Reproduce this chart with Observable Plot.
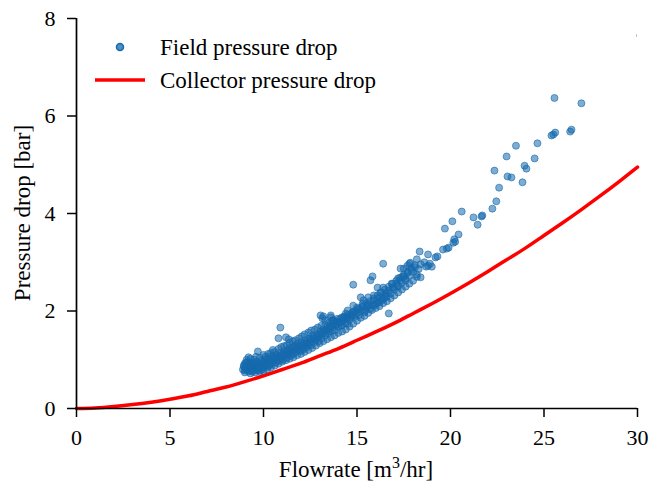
<!DOCTYPE html>
<html>
<head>
<meta charset="utf-8">
<script src="https://cdn.jsdelivr.net/npm/d3@7"></script>
<script src="https://cdn.jsdelivr.net/npm/@observablehq/plot@0.6"></script>
<style>
  html, body { margin: 0; padding: 0; background: #fff; }
  #chart { width: 663px; height: 485px; }
</style>
</head>
<body>
<div id="chart"></div>
<script>
// ---- data ----
const xTicks = [0, 5, 10, 15, 20, 25, 30];
const yTicks = [0, 2, 4, 6, 8];
const xLabel = "Flowrate [m";
const xLabelSup = "3";
const xLabelEnd = "/hr]";
const yLabel = "Pressure drop [bar]";
const legendField = "Field pressure drop";
const legendCollector = "Collector pressure drop";

// Collector pressure drop curve (read at integer flowrates)
const collectorFlow = [0,1,2,3,4,5,6,7,8,9,10,11,12,13,14,15,16,17,18,19,20,21,22,23,24,25,26,27,28,29,30];
const collectorDrop = [0,0.01,0.04,0.08,0.13,0.19,0.26,0.35,0.44,0.55,0.67,0.80,0.93,1.08,1.23,1.40,1.57,1.75,1.95,2.15,2.36,2.58,2.81,3.05,3.29,3.55,3.81,4.08,4.36,4.65,4.95];

// Field pressure drop measurements [flowrate, pressure drop]
const fieldSparse = [
  [30.15,7.65],[25.56,6.37],[27.0,6.26],[25.6,5.66],[25.5,5.62],[25.4,5.6],[26.47,5.72],[26.4,5.68],
  [24.65,5.44],[23.5,5.39],[24.5,5.13],[23.0,5.17],[23.96,4.98],[24.06,4.92],[22.35,4.88],[23.05,4.76],
  [23.26,4.74],[23.85,4.64],[22.6,4.53],[22.45,4.25],[22.24,4.10],[21.66,3.94],[21.7,3.96],[21.23,3.92],
  [20.6,4.04],[20.1,3.84],[21.45,3.77],[19.7,3.69],[20.43,3.57],[20.2,3.47],[20.25,3.42],[20.15,3.4],
  [19.9,3.3],[19.8,3.28],[19.6,3.26],[19.3,3.12],[19.2,3.1],[18.8,3.16],[18.35,3.22],[18.2,3.06],
  [18.9,2.97],[18.8,2.93],[18.7,2.91],[19.0,2.91],[17.85,2.99],[17.7,2.93],[17.5,2.87]
];
const fieldMid = [
  [16.4,2.97],[17.8,2.97],[17.33,2.87],[15.83,2.71],[15.72,2.63],[14.8,2.54],[17.43,2.71],[17.6,2.63],
  [17.2,2.67],[18.2,2.75],[18.4,2.69],[16.85,2.56],[16.95,2.48],[17.2,2.52],[16.4,2.48],[16.1,2.48],
  [16.25,2.38],[16.6,2.36],[16.5,2.28],[16.3,2.22],[15.9,2.32],[16.1,2.17],[15.9,2.11],[15.6,2.28],
  [15.35,2.22],[15.2,2.28],[15.3,2.15],[15.0,2.07],[14.8,2.11],[15.6,2.11],[15.45,2.01],[14.5,2.01],
  [14.4,1.95],[14.3,1.87],[14.75,1.97],[14.65,1.87],[14.8,1.91],[16.7,1.95],[13.6,1.91],[13.3,1.81],
  [13.75,1.81],[13.6,1.7],[14.1,1.76],[14.5,1.74],[13.05,1.91],[13.15,1.85],
  [13.2,1.89],[13.6,1.87],[13.7,1.81],[14.2,1.87],[14.2,1.70],[10.9,1.66],[10.8,1.44],[11.2,1.46],
  [11.35,1.42],[9.7,1.17],[9.2,1.05],[9.05,0.94],[8.95,0.88]
];
const fieldBand = [
  [8.9,0.80],[8.95,0.86],[9.0,0.92],[9.0,0.78],[9.05,0.84],[9.1,0.88],[9.1,0.80],[9.15,0.95],
  [9.2,0.83],[9.2,0.76],[9.25,0.90],[9.3,0.86],[9.3,0.79],[9.35,0.93],[9.4,0.82],[9.4,0.76],
  [9.45,0.88],[9.5,0.84],[9.5,0.78],[9.55,0.92],[9.6,0.86],[9.6,0.80],[9.65,0.96],[9.7,0.88],
  [9.7,0.82],[9.75,0.78],[9.8,0.92],[9.85,0.86],[9.9,0.80],[9.9,0.98],[9.95,0.90],[10.0,0.84],
  [10.0,0.95],[10.05,1.0],[10.1,0.88],[10.15,0.94],[10.2,0.86],[10.2,1.02],[10.3,0.92],[10.3,0.98],
  [10.35,1.06],[10.4,0.90],[10.45,1.0],[10.5,0.95],[10.55,1.08],[10.6,1.02],[10.65,0.94],[10.7,1.10],
  [10.75,1.0],[10.8,1.06],[10.85,0.98],[10.9,1.14],[10.95,1.04],[11.0,1.10],[11.05,1.0],[11.1,1.18],
  [11.15,1.08],[11.2,1.14],[11.25,1.04],[11.3,1.2],[11.35,1.12],[11.4,1.24],[11.45,1.08],[11.5,1.16],
  [11.55,1.26],[11.6,1.12],[11.65,1.2],[11.7,1.3],[11.75,1.16],[11.8,1.24],[11.85,1.34],[11.9,1.2],
  [11.95,1.28],[12.0,1.18],[12.05,1.36],[12.1,1.26],[12.15,1.22],[12.2,1.32],[12.25,1.4],[12.3,1.26],
  [12.35,1.34],[12.4,1.3],[12.45,1.44],[12.5,1.36],[12.55,1.3],[12.6,1.42],[12.65,1.5],[12.7,1.36],
  [12.75,1.44],[12.8,1.4],[12.85,1.52],[12.9,1.46],[12.95,1.38],[13.0,1.5],[13.05,1.58],[13.1,1.44],
  [13.15,1.54],[13.2,1.62],[13.3,1.5],[13.35,1.58],[13.4,1.66],[13.45,1.54],[13.5,1.62],[13.55,1.7],
  [13.6,1.58],[13.7,1.66],[13.75,1.74],[13.8,1.6],[13.85,1.7],[13.9,1.78],[14.0,1.68],[14.05,1.76],
  [14.1,1.84],[14.15,1.7],[14.25,1.8],[14.3,1.88],[14.4,1.76],[14.45,1.84],[14.5,1.92],[14.6,1.82],
  [14.7,1.9],[14.8,1.98],[14.9,1.88],[15.0,1.96],[15.05,2.04],[15.1,1.92],[15.2,2.0],[15.3,2.08],
  [15.4,1.98],[15.5,2.06],[15.6,2.14],[15.7,2.04],[15.8,2.12],[15.9,2.22],[16.0,2.14],[16.1,2.26],
  [16.2,2.18],[16.3,2.3],[16.4,2.24],[16.5,2.36],[16.6,2.3],[16.7,2.42],[16.8,2.36],[16.9,2.48],
  [17.0,2.44],[17.1,2.56],[17.2,2.5],[17.3,2.62],[17.4,2.58],[17.5,2.7],[17.6,2.66],[17.7,2.78],
  [17.8,2.72],[17.9,2.84],[18.0,2.8],[18.1,2.9],[18.3,2.86],[18.4,2.96],[18.6,3.0]
];
const fieldBandUpper = [
  [9.1,1.0],[9.3,1.02],[9.5,1.0],[9.6,1.06],[9.8,1.04],[10.0,1.1],[10.1,1.06],[10.25,1.12],
  [10.4,1.14],[10.5,1.2],[10.6,1.16],[10.8,1.22],[10.95,1.26],[11.1,1.28],[11.25,1.3],[11.4,1.34],
  [11.55,1.38],[11.7,1.4],[11.9,1.44],[12.05,1.48],[12.2,1.52],[12.4,1.56],[12.55,1.6],[12.75,1.62],
  [12.9,1.66],[13.1,1.7],[13.3,1.72],[13.5,1.76],[13.7,1.8],[13.95,1.84]
];
const fieldBandLower = [
  [9.0,0.74],[9.3,0.72],[9.55,0.74],[9.8,0.75],[10.0,0.77],[10.2,0.8],[10.4,0.84],[10.6,0.88],
  [10.8,0.92],[11.0,0.96],[11.2,0.99],[11.4,1.02],[11.6,1.05],[11.8,1.09],[12.0,1.12],[12.2,1.16],
  [12.4,1.2],[12.6,1.24],[12.8,1.29],[13.0,1.34],[13.2,1.38],[13.4,1.42],[13.6,1.46],[13.8,1.5],
  [14.0,1.55],[14.2,1.58],[14.4,1.62],[14.6,1.68],[14.8,1.74],[15.0,1.8],[15.2,1.86],[15.4,1.9],
  [15.6,1.96],[15.8,2.02],[16.0,2.06],[16.2,2.1],[16.4,2.16],[16.6,2.2],[16.8,2.26],[17.0,2.32],
  [17.2,2.38],[17.4,2.44],[17.6,2.5],[17.8,2.56],[18.0,2.62],[18.2,2.7]
];
const fieldBandCore = [
  [9.2,0.9],[9.4,0.94],[9.6,0.92],[9.8,0.84],[10.1,0.92],[10.3,0.88],[10.5,1.0],[10.7,1.04],
  [10.9,1.08],[11.1,1.12],[11.3,1.16],[11.5,1.2],[11.7,1.24],[11.9,1.28],[12.1,1.32],[12.3,1.36],
  [12.5,1.42],[12.7,1.46],[12.9,1.5],[13.1,1.54],[13.3,1.6],[13.5,1.64],[13.7,1.7],[13.9,1.72],
  [14.1,1.78],[14.3,1.82],[14.5,1.86],[14.7,1.94],[14.9,2.0],[15.1,2.04],[15.3,2.1],[15.5,2.16],
  [15.7,2.2],[15.9,2.26],[16.1,2.32],[16.3,2.38],[16.5,2.44],[16.7,2.5],[16.9,2.56],[17.1,2.62],
  [17.3,2.68],[17.5,2.74],[17.7,2.8],[17.9,2.88],[18.1,2.94]
];

// ---- build ----
const fieldData = [...fieldBandLower, ...fieldBand, ...fieldBandCore, ...fieldBandUpper, ...fieldMid, ...fieldSparse]
  .map(([x, y]) => ({x, y}));
const collectorData = collectorFlow.map((x, i) => ({x, y: collectorDrop[i]}));

const W = 663, H = 485;
const FONT = "Liberation Serif, Times New Roman, serif";
const blue = "#1569ad";

const plot = Plot.plot({
  width: W,
  height: H,
  marginLeft: 76,
  marginRight: 26,
  marginTop: 18,
  marginBottom: 77,
  style: {fontFamily: FONT, fontSize: "22px", background: "#fff", color: "#000", overflow: "visible"},
  x: {domain: [0, 30]},
  y: {domain: [0, 8]},
  marks: [
    Plot.dot(fieldData, {x: "x", y: "y", r: 3.5, fill: blue, fillOpacity: 0.55, stroke: blue, strokeOpacity: 0.6, strokeWidth: 1, clip: true}),
    Plot.line(collectorData, {x: "x", y: "y", stroke: "#ff0000", strokeWidth: 3.5, curve: "natural"}),
    Plot.axisX({ticks: xTicks, tickSize: 9, tickPadding: 12, tickFormat: d => String(d), label: null, strokeWidth: 1.5, fontSize: 22}),
    Plot.axisY({ticks: yTicks, tickSize: 9, tickPadding: 12, tickFormat: d => String(d), label: null, strokeWidth: 1.5, fontSize: 22}),
    Plot.ruleY([0], {stroke: "#000", strokeWidth: 1.7}),
    Plot.ruleX([0], {stroke: "#000", strokeWidth: 1.7})
  ]
});

document.getElementById("chart").appendChild(plot);

// axis labels and legend
const svg = d3.select(plot);
const xl = svg.append("text")
  .attr("x", 356).attr("y", 477)
  .attr("text-anchor", "middle")
  .attr("font-family", FONT).attr("font-size", 23).attr("fill", "#000");
xl.append("tspan").text(xLabel);
xl.append("tspan").attr("dy", -9).attr("font-size", 16).text(xLabelSup);
xl.append("tspan").attr("dy", 9).text(xLabelEnd);

svg.append("text")
  .attr("transform", "translate(30,213) rotate(-90)")
  .attr("text-anchor", "middle")
  .attr("font-family", FONT).attr("font-size", 23).attr("fill", "#000")
  .text(yLabel);

const lg = svg.append("g");
lg.append("circle").attr("cx", 120).attr("cy", 47).attr("r", 3.5)
  .attr("fill", blue).attr("fill-opacity", 0.75).attr("stroke", blue).attr("stroke-width", 1.5);
lg.append("text").attr("x", 160).attr("y", 47).attr("dy", "0.35em").attr("text-anchor", "start")
  .attr("font-family", FONT).attr("font-size", 23).attr("fill", "#000").text(legendField);
lg.append("line").attr("x1", 95).attr("x2", 145).attr("y1", 80).attr("y2", 80)
  .attr("stroke", "#ff0000").attr("stroke-width", 3.5);
lg.append("text").attr("x", 160).attr("y", 80).attr("dy", "0.35em").attr("text-anchor", "start")
  .attr("font-family", FONT).attr("font-size", 23).attr("fill", "#000").text(legendCollector);
</script>
</body>
</html>
